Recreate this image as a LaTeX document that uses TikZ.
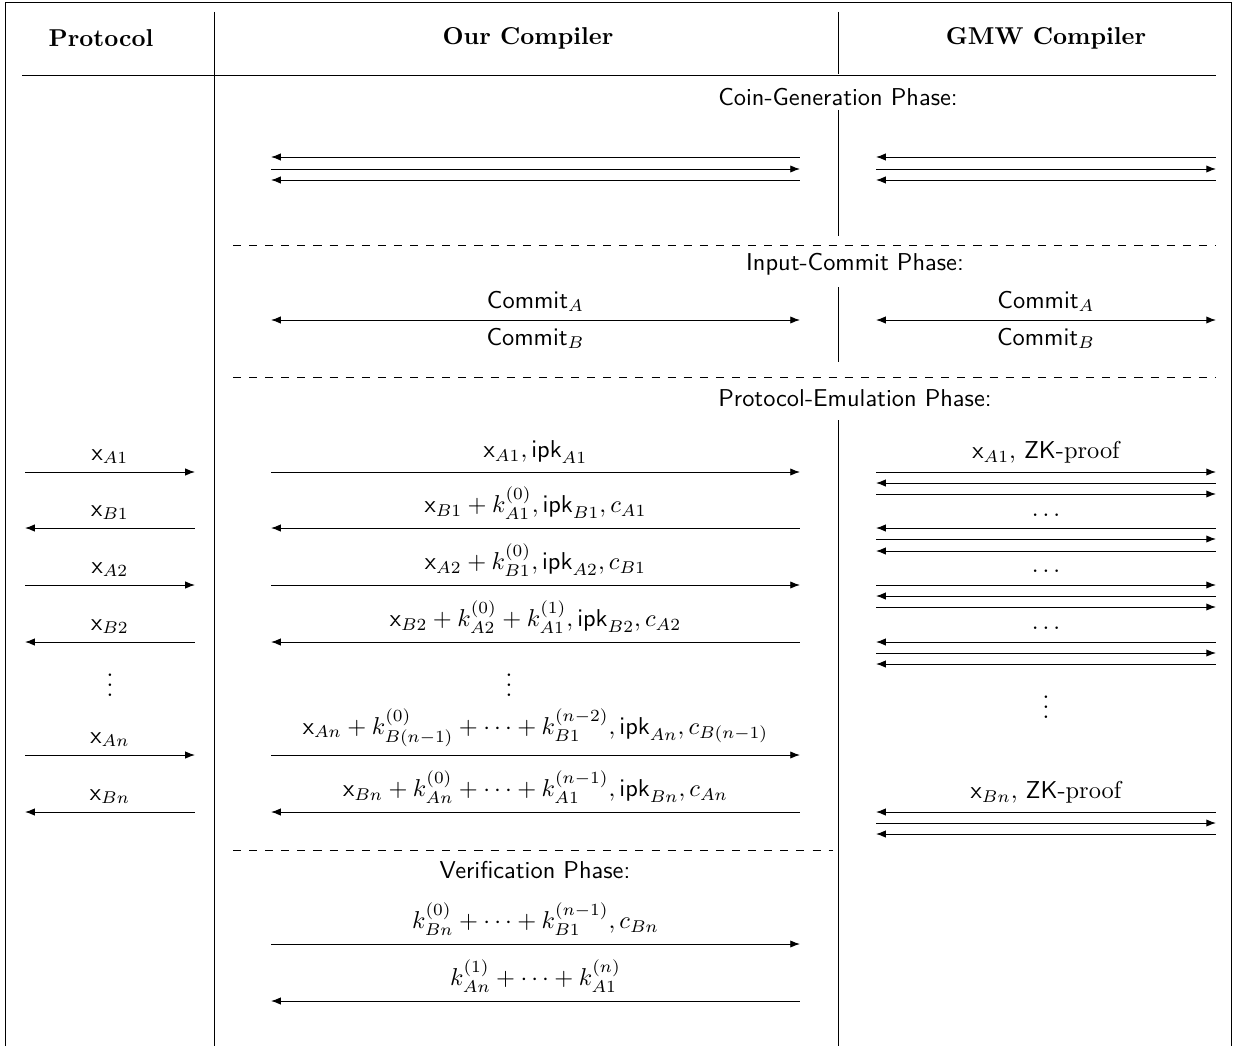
\documentclass[tikz,border=0pt]{standalone}
\usetikzlibrary{arrows.meta,calc}
\begin{document}
\begin{tikzpicture}[x=0.41pt,y=-0.41pt,
  >={Latex[length=4pt,width=3pt]},
  msg/.style={line width=0.4pt},
  rule/.style={line width=0.4pt},
  dline/.style={line width=0.4pt,dash pattern=on 3.3pt off 3.3pt},
  head/.style={font=\bfseries},
  phase/.style={font=\sffamily},
  lbl/.style={inner sep=3.2pt}]
\useasboundingbox (0,0) rectangle (1234,1046);
% frame
\draw[rule] (5,1046) -- (5,2) -- (1231,2) -- (1231,1046);
% headers
\node[head] (hP) at (101,38) {Protocol};
\node[head] (hO) at (528,38) {Our Compiler};
\node[head] (hG) at (1046,38) {GMW Compiler};
% rules
\coordinate (hl1) at (22,75); \coordinate (hl2) at (1216,75);
\draw[rule] (hl1) -- (hl2);
\coordinate (v1a) at (214,12); \coordinate (v1b) at (214,1046);
\draw[rule] (v1a) -- (v1b);
\coordinate (v2a) at (838,12); \coordinate (v2b) at (838,74);
\coordinate (v2c) at (838,110); \coordinate (v2d) at (838,236);
\coordinate (v2e) at (838,287); \coordinate (v2f) at (838,362);
\coordinate (v2g) at (838,420); \coordinate (v2h) at (838,1046);
\draw[rule] (v2a) -- (v2b) (v2c) -- (v2d) (v2e) -- (v2f) (v2g) -- (v2h);
% dashed separators
\coordinate (d1a) at (233,245); \coordinate (d1b) at (1216,245);
\coordinate (d2a) at (233,377); \coordinate (d2b) at (1216,377);
\coordinate (d3a) at (233,850); \coordinate (d3b) at (833,850);
\draw[dline] (d1a) -- (d1b) (d2a) -- (d2b) (d3a) -- (d3b);
% phase titles
\node[phase] (ph1) at (838,97) {Coin-Generation Phase:};
\node[phase] (ph2) at (855,264) {Input-Commit Phase:};
\node[phase] (ph3) at (855,398) {Protocol-Emulation Phase:};
\node[phase] (ph4) at (535,870) {Verification Phase:};
% coin generation
\foreach \nm/\y/\d in {c1/157/<-, c2/169/->, c3/180/<-}{
  \coordinate (\nm OL) at (271,\y); \coordinate (\nm OR) at (800,\y);
  \coordinate (\nm GL) at (876,\y); \coordinate (\nm GR) at (1216,\y);
  \draw[msg,\d] (\nm OL) -- (\nm OR);
  \draw[msg,\d] (\nm GL) -- (\nm GR);
}
% input commit
\coordinate (cmOL) at (271,320); \coordinate (cmOR) at (800,320);
\coordinate (cmGL) at (876,320); \coordinate (cmGR) at (1216,320);
\draw[msg,<->] (cmOL) -- node[lbl,above]{$\mathsf{Commit}_A$} node[lbl,below]{$\mathsf{Commit}_B$} (cmOR);
\draw[msg,<->] (cmGL) -- node[lbl,above]{$\mathsf{Commit}_A$} node[lbl,below]{$\mathsf{Commit}_B$} (cmGR);
% protocol emulation: coordinates
\foreach \n/\y in {1/472,2/528,3/585,4/642,5/755,6/812}{
  \coordinate (PL\n) at (25,\y); \coordinate (PR\n) at (195,\y);
  \coordinate (OL\n) at (271,\y); \coordinate (OR\n) at (800,\y);
}
% protocol column
\draw[msg,->] (PL1) -- node[lbl,above]{$\mathsf{x}_{A1}$} (PR1);
\draw[msg,<-] (PL2) -- node[lbl,above]{$\mathsf{x}_{B1}$} (PR2);
\draw[msg,->] (PL3) -- node[lbl,above]{$\mathsf{x}_{A2}$} (PR3);
\draw[msg,<-] (PL4) -- node[lbl,above]{$\mathsf{x}_{B2}$} (PR4);
\node (pvd) at (110,678) {$\vdots$};
\draw[msg,->] (PL5) -- node[lbl,above]{$\mathsf{x}_{An}$} (PR5);
\draw[msg,<-] (PL6) -- node[lbl,above]{$\mathsf{x}_{Bn}$} (PR6);
% our compiler column
\draw[msg,->] (OL1) -- node[lbl,above]{$\mathsf{x}_{A1},\mathsf{ipk}_{A1}$} (OR1);
\draw[msg,<-] (OL2) -- node[lbl,above]{$\mathsf{x}_{B1}+k^{(0)}_{A1},\mathsf{ipk}_{B1},c_{A1}$} (OR2);
\draw[msg,->] (OL3) -- node[lbl,above]{$\mathsf{x}_{A2}+k^{(0)}_{B1},\mathsf{ipk}_{A2},c_{B1}$} (OR3);
\draw[msg,<-] (OL4) -- node[lbl,above]{$\mathsf{x}_{B2}+k^{(0)}_{A2}+k^{(1)}_{A1},\mathsf{ipk}_{B2},c_{A2}$} (OR4);
\node (ovd) at (509,678) {$\vdots$};
\draw[msg,->] (OL5) -- node[lbl,above]{$\mathsf{x}_{An}+k^{(0)}_{B(n-1)}+\cdots+k^{(n-2)}_{B1},\mathsf{ipk}_{An},c_{B(n-1)}$} (OR5);
\draw[msg,<-] (OL6) -- node[lbl,above]{$\mathsf{x}_{Bn}+k^{(0)}_{An}+\cdots+k^{(n-1)}_{A1},\mathsf{ipk}_{Bn},c_{An}$} (OR6);
% GMW column
\foreach \nm/\y/\d in {g11/472/->, g12/483/<-, g13/494/->,
                       g21/528/<-, g22/539/->, g23/551/<-,
                       g31/585/->, g32/596/<-, g33/607/->,
                       g41/642/<-, g42/653/->, g43/664/<-,
                       g51/812/<-, g52/823/->, g53/834/<-}{
  \coordinate (\nm L) at (876,\y); \coordinate (\nm R) at (1216,\y);
  \draw[msg,\d] (\nm L) -- (\nm R);
}
\node[lbl,above] (gz1) at ($(g11L)!0.5!(g11R)$) {$\mathsf{x}_{A1}$, \textsf{ZK}-proof};
\node[lbl,above] (gz2) at ($(g51L)!0.5!(g51R)$) {$\mathsf{x}_{Bn}$, \textsf{ZK}-proof};
\node[anchor=base] (gd1) at (1046,516) {$\ldots$};
\node[anchor=base] (gd2) at (1046,572) {$\ldots$};
\node[anchor=base] (gd3) at (1046,629) {$\ldots$};
\node (gvd) at (1046,700) {$\vdots$};
% verification
\coordinate (vf1L) at (271,944); \coordinate (vf1R) at (800,944);
\coordinate (vf2L) at (271,1001); \coordinate (vf2R) at (800,1001);
\draw[msg,->] (vf1L) -- node[lbl,above]{$k^{(0)}_{Bn}+\cdots+k^{(n-1)}_{B1},c_{Bn}$} (vf1R);
\draw[msg,<-] (vf2L) -- node[lbl,above]{$k^{(1)}_{An}+\cdots+k^{(n)}_{A1}$} (vf2R);
\end{tikzpicture}
\end{document}
